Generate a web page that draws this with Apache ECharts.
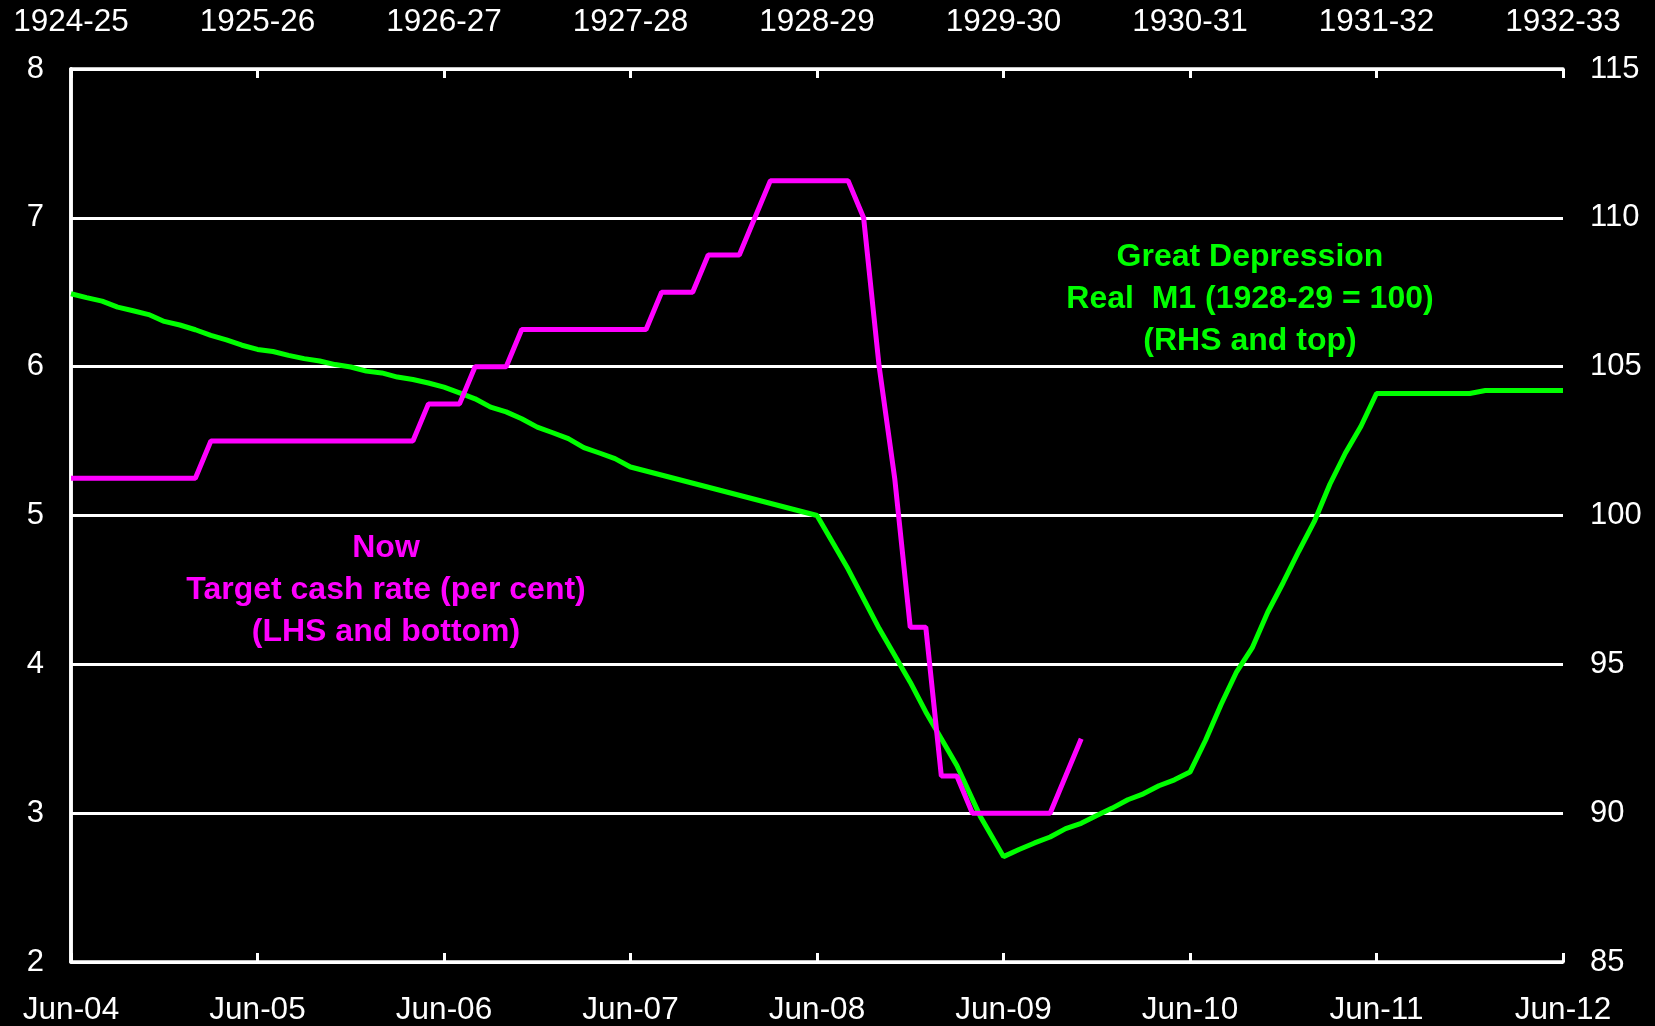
<!DOCTYPE html>
<html>
<head>
<meta charset="utf-8">
<script src="https://cdn.jsdelivr.net/npm/echarts@6/dist/echarts.min.js"></script>
<style>
  html, body { margin: 0; padding: 0; background: #000; }
  #chart { width: 1655px; height: 1026px; }
</style>
</head>
<body>
<div id="chart"></div>
<script>
// bottom axis: months since Jun-04, one label per year
const nowLabels = ['Jun-04', 'Jun-05', 'Jun-06', 'Jun-07', 'Jun-08', 'Jun-09', 'Jun-10', 'Jun-11', 'Jun-12'];
// top axis: financial years of the Great Depression
const gdLabels = ['1924-25', '1925-26', '1926-27', '1927-28', '1928-29', '1929-30', '1930-31', '1931-32', '1932-33'];

// target cash rate, monthly from Jun-04 (per cent)
const cashRate = [
  5.25, 5.25, 5.25, 5.25, 5.25, 5.25, 5.25, 5.25, 5.25,
  5.5, 5.5, 5.5, 5.5, 5.5, 5.5, 5.5, 5.5, 5.5, 5.5, 5.5, 5.5, 5.5, 5.5,
  5.75, 5.75, 5.75,
  6.0, 6.0, 6.0,
  6.25, 6.25, 6.25, 6.25, 6.25, 6.25, 6.25, 6.25, 6.25,
  6.5, 6.5, 6.5,
  6.75, 6.75, 6.75,
  7.0,
  7.25, 7.25, 7.25, 7.25, 7.25, 7.25,
  7.0, 6.0, 5.25,
  4.25, 4.25,
  3.25, 3.25,
  3.0, 3.0, 3.0, 3.0, 3.0, 3.0,
  3.25, 3.5
];

// real M1 in the Great Depression (1928-29 = 100); months from start of 1924-25
const m1Months = [
  0, 1, 2, 3, 4, 5, 6, 7, 8, 9, 10, 11, 12, 13, 14, 15, 16, 17, 18,
  19, 20, 21, 22, 23, 24, 25, 26, 27, 28, 29, 30, 31, 32, 33, 34, 35, 36,
  48, 50, 52, 54, 55, 57, 58.5,
  60, 61, 62, 63, 64, 65, 66, 67, 68, 69, 70, 71, 72,
  73, 74, 75, 76, 77, 78, 79, 80, 81, 82, 83, 84,
  90, 91, 96
];
const m1Values = [
  107.45, 107.32, 107.2, 107.0, 106.88, 106.75, 106.52, 106.4, 106.24, 106.05,
  105.9, 105.72, 105.58, 105.51, 105.38, 105.27, 105.19, 105.07, 104.99,
  104.85, 104.79, 104.65, 104.57, 104.45, 104.31, 104.12, 103.92, 103.64,
  103.48, 103.25, 102.97, 102.78, 102.58, 102.28, 102.1, 101.91, 101.63,
  100.0, 98.2, 96.2, 94.4, 93.4, 91.6, 89.9,
  88.54, 88.78, 89.0, 89.2, 89.48, 89.66, 89.92, 90.17, 90.45, 90.65, 90.92, 91.12, 91.38,
  92.45, 93.65, 94.75, 95.55, 96.75, 97.75, 98.8, 99.8, 101.05, 102.1, 103.0, 104.1,
  104.1, 104.2, 104.2
];

const font = 'Liberation Sans, Arial, sans-serif';
const white = '#ffffff';

const cashData = cashRate.map((v, i) => [i, v]);
const m1Data = m1Months.map((m, i) => [m, m1Values[i]]);

function xAxisCfg(pos, labels, margin) {
  return {
    type: 'value', position: pos, min: 0, max: 96, interval: 12,
    axisLine: { show: true, onZero: false, lineStyle: { color: white, width: 3.5 } },
    axisTick: { show: true, inside: true, length: 9, lineStyle: { color: white, width: 3 } },
    axisLabel: {
      color: white, fontFamily: font, fontSize: 31.5, margin: margin,
      formatter: v => labels[Math.round(v / 12)]
    },
    splitLine: { show: false }
  };
}

function yAxisCfg(pos, min, max, step, grid) {
  return {
    type: 'value', position: pos, min: min, max: max, interval: step,
    axisLine: { show: true, lineStyle: { color: white, width: 3.5 } },
    axisTick: { show: false },
    axisLabel: { color: white, fontFamily: font, fontSize: 31, margin: 27 },
    splitLine: { show: grid, lineStyle: { color: white, width: 3 } }
  };
}

const chart = echarts.init(document.getElementById('chart'), null, { renderer: 'canvas' });
chart.setOption({
  backgroundColor: '#000000',
  animation: false,
  grid: { left: 71, right: 92, top: 69, bottom: 64, containLabel: false, outerBoundsMode: 'none' },
  xAxis: [xAxisCfg('bottom', nowLabels, 32), xAxisCfg('top', gdLabels, 31)],
  yAxis: [yAxisCfg('left', 2, 8, 1, true), yAxisCfg('right', 85, 115, 5, false)],
  series: [
    {
      name: 'Real M1', type: 'line', xAxisIndex: 1, yAxisIndex: 1,
      data: m1Data, showSymbol: false, symbol: 'none',
      lineStyle: { color: '#00ff00', width: 5 }
    },
    {
      name: 'Target cash rate', type: 'line', xAxisIndex: 0, yAxisIndex: 0,
      data: cashData, showSymbol: false, symbol: 'none',
      lineStyle: { color: '#ff00ff', width: 5 }
    }
  ],
  graphic: [
    {
      type: 'text', x: 1250, y: 236, z: 100,
      style: {
        text: 'Great Depression\nReal  M1 (1928-29 = 100)\n(RHS and top)',
        fill: '#00ff00', font: 'bold 32px ' + font, lineHeight: 42,
        align: 'center', verticalAlign: 'top'
      }
    },
    {
      type: 'text', x: 386, y: 527, z: 100,
      style: {
        text: 'Now\nTarget cash rate (per cent)\n(LHS and bottom)',
        fill: '#ff00ff', font: 'bold 32px ' + font, lineHeight: 42,
        align: 'center', verticalAlign: 'top'
      }
    }
  ]
});
</script>
</body>
</html>
